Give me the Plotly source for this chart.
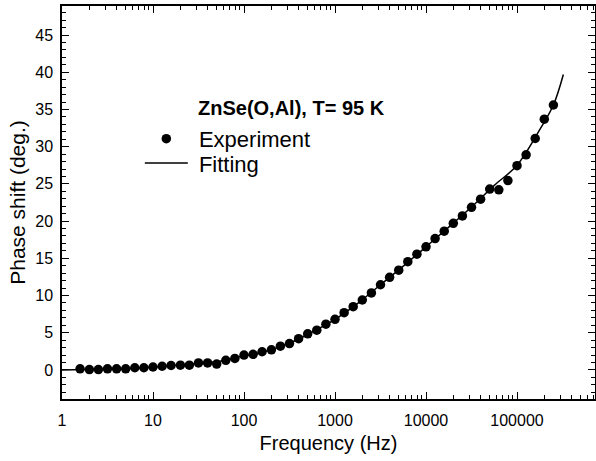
import plotly.graph_objects as go

# Experimental data (Frequency in Hz, phase shift in degrees)
freq_exp = [1.58, 2.0, 2.51, 3.16, 3.98, 5.01, 6.31, 7.94, 10, 12.6, 15.8, 20, 25.1, 31.6,
            39.8, 50.1, 63.1, 79.4, 100, 126, 158, 200, 251, 316, 398, 501, 631, 794,
            1000, 1259, 1585, 1995, 2512, 3162, 3981, 5012, 6310, 7943, 10000, 12589,
            15849, 19953, 25119, 31623, 39811, 50119, 63096, 79433, 100000, 125893,
            158489, 199526, 251189]
phase_exp = [0.15, 0.05, 0.05, 0.15, 0.15, 0.15, 0.3, 0.3, 0.4, 0.5, 0.6, 0.65, 0.65, 0.95,
             0.95, 0.8, 1.3, 1.55, 2.0, 2.1, 2.45, 2.7, 3.2, 3.55, 4.2, 4.85, 5.35, 6.15,
             6.8, 7.7, 8.5, 9.4, 10.35, 11.45, 12.45, 13.4, 14.55, 15.55, 16.55, 17.65,
             18.65, 19.7, 20.7, 21.85, 22.95, 24.3, 24.2, 25.45, 27.45, 28.9, 31.1, 33.7,
             35.6]

# Fitting curve
freq_fit = [1, 1.78, 3.16, 5.62, 10, 17.8, 31.6, 56.2, 100, 178, 316, 562, 1000, 1778,
            3162, 5623, 10000, 17783, 31623, 56234, 100000, 177828, 251189, 323000]
phase_fit = [0.0, 0.08, 0.12, 0.2, 0.4, 0.62, 0.9, 1.2, 1.9, 2.55, 3.6, 5.1, 6.8, 8.95,
             11.45, 13.95, 16.55, 19.2, 21.9, 24.8, 27.5, 32.3, 35.6, 39.7]

x_tickvals = [1, 10, 100, 1000, 10000, 100000]
x_ticktext = ["1", "10", "100", "1000", "10000", "100000"]

FONT = "Arial, Liberation Sans, sans-serif"
LEG_FONT = dict(size=22, family=FONT, color="black")

fig = go.Figure()
fig.add_trace(go.Scatter(x=freq_exp, y=phase_exp, mode="markers",
                         name="\u00a0Experiment", legend="legend",
                         marker=dict(color="black", size=9.5)))
fig.add_trace(go.Scatter(x=freq_fit, y=phase_fit, mode="lines",
                         name="\u00a0Fitting", legend="legend2",
                         line=dict(color="black", width=1.5, shape="spline")))

fig.update_layout(
    width=596, height=461,
    margin=dict(l=62, r=1, t=6, b=62, autoexpand=False),
    paper_bgcolor="white", plot_bgcolor="white",
    font=dict(family=FONT, color="black", size=16),
    showlegend=True,
    legend=dict(x=0.146, y=0.662, xanchor="left", yanchor="middle",
                bgcolor="rgba(0,0,0,0)", borderwidth=0, font=LEG_FONT, itemwidth=43),
    legend2=dict(x=0.146, y=0.6, xanchor="left", yanchor="middle",
                 bgcolor="rgba(0,0,0,0)", borderwidth=0, font=LEG_FONT, itemwidth=43),
    annotations=[dict(text="<b>ZnSe(O,Al), T= 95 K</b>", xref="paper", yref="paper",
                      x=0.252, y=0.74, xanchor="left", yanchor="middle",
                      showarrow=False, font=dict(size=20, family=FONT, color="black"))],
)

fig.update_xaxes(
    type="log", range=[0, 5.857], automargin=False,
    tickvals=x_tickvals, ticktext=x_ticktext,
    ticks="inside", ticklen=7, tickwidth=1.2, tickcolor="black",
    showline=True, linecolor="black", linewidth=1.5, mirror="allticks",
    showgrid=False, zeroline=False,
    tickfont=dict(size=16, family=FONT, color="black"),
    ticklabelstandoff=6,
    minor=dict(ticks="inside", ticklen=4, tickwidth=1, tickcolor="black", dtick="D1", showgrid=False),
    title=dict(text="Frequency (Hz)", font=dict(size=20, family=FONT, color="black"), standoff=8),
)
fig.update_yaxes(
    range=[-3.9, 48.9], dtick=5, tick0=0, automargin=False,
    ticks="inside", ticklen=7, tickwidth=1.2, tickcolor="black",
    showline=True, linecolor="black", linewidth=1.5, mirror="allticks",
    showgrid=False, zeroline=False,
    tickfont=dict(size=16, family=FONT, color="black"),
    ticklabelstandoff=4,
    minor=dict(ticks="inside", ticklen=4, tickwidth=1, tickcolor="black", dtick=1, showgrid=False),
    title=dict(text="Phase shift (deg.)", font=dict(size=21, family=FONT, color="black"), standoff=4),
)

fig.write_html("out.html", config={"displayModeBar": False},
               post_script="document.body.style.margin='0px';")
